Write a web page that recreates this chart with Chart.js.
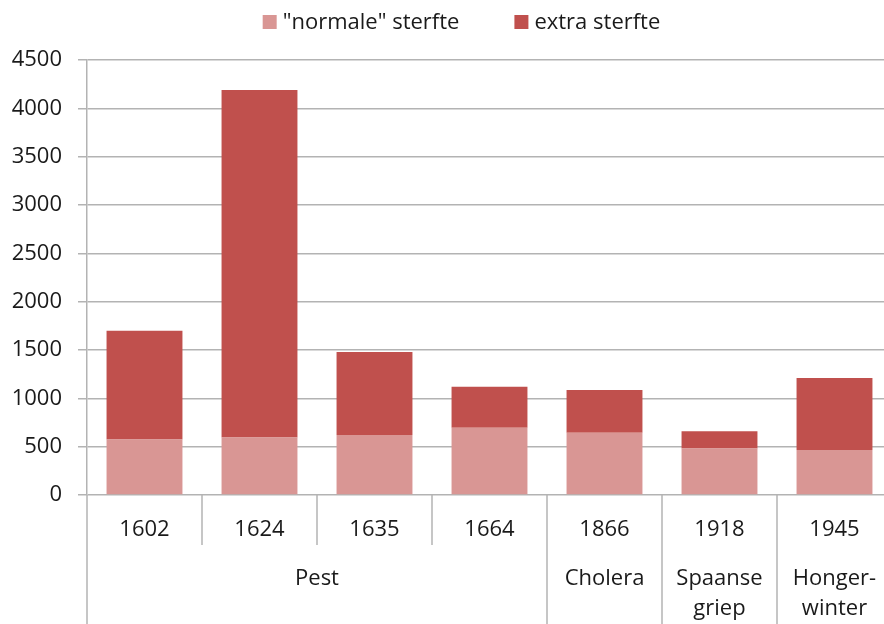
<!DOCTYPE html>
<html><head><meta charset="utf-8">
<script src="https://cdn.jsdelivr.net/npm/chart.js@4"></script>
<style>html,body{margin:0;padding:0;overflow:hidden;background:#fff;width:884px;height:624px}</style>
</head><body>
<canvas id="c" width="894" height="624"></canvas>
<script>
const categories = ['1602', '1624', '1635', '1664', '1866', '1918', '1945'];
const normalDeaths = [575, 595, 620, 695, 645, 480, 465];
const extraDeaths = [1125, 3595, 860, 425, 440, 180, 745];
const seriesNames = ['"normale" sterfte', 'extra sterfte'];
const seriesColors = ['#d99694', '#c0504d'];
const groupLabels = [['Pest'], ['Cholera'], ['Spaanse', 'griep'], ['Honger-', 'winter']];
const groupFirst = [0, 4, 5, 6];
const groupLast = [3, 4, 5, 6];
const yMin = 0, yMax = 4500, yStep = 500;

const FONT = '"Open Sans", "Noto Sans", sans-serif';
const TEXT = '#1a1a1a';
const LINE = '#b3b3b3';

const extrasPlugin = {
  id: 'extras',
  afterDraw(chart) {
    const ctx = chart.ctx;
    const xs = chart.scales.x;
    const area = chart.chartArea;
    const H = chart.height;
    const step = xs.getPixelForValue(1) - xs.getPixelForValue(0);
    const edge = (k) => xs.getPixelForValue(k) - step / 2; // left edge of category k
    ctx.save();
    ctx.strokeStyle = LINE;
    ctx.lineWidth = 1.5;
    ctx.beginPath();
    ctx.moveTo(area.left, area.bottom);
    ctx.lineTo(area.left, H);
    ctx.stroke();
    for (let k = 1; k <= categories.length; k++) {
      const isGroup = groupFirst.includes(k) || k === categories.length;
      const x = edge(k);
      ctx.beginPath();
      ctx.moveTo(x, area.bottom);
      ctx.lineTo(x, isGroup ? H : area.bottom + 50);
      ctx.stroke();
    }
    ctx.fillStyle = TEXT;
    ctx.font = '22px ' + FONT;
    ctx.textAlign = 'center';
    ctx.textBaseline = 'middle';
    groupLabels.forEach((lines, g) => {
      const cx = (edge(groupFirst[g]) + edge(groupLast[g] + 1)) / 2;
      lines.forEach((t, j) => ctx.fillText(t, cx, area.bottom + 84 + j * 30));
    });
    const box = 14, gapBox = 6, gapItem = 55;
    const widths = seriesNames.map(s => ctx.measureText(s).width);
    const total = widths.reduce((a, w) => a + box + gapBox + w, 0) + gapItem * (seriesNames.length - 1);
    let x = 461.5 - total / 2;
    const cy = 22;
    ctx.textAlign = 'left';
    seriesNames.forEach((s, i) => {
      ctx.fillStyle = seriesColors[i];
      ctx.fillRect(x, cy - box / 2, box, box);
      x += box + gapBox;
      ctx.fillStyle = TEXT;
      ctx.fillText(s, x, cy + 1);
      x += widths[i] + gapItem;
    });
    ctx.restore();
  }
};

new Chart(document.getElementById('c'), {
  type: 'bar',
  data: {
    labels: categories,
    datasets: [
      { label: seriesNames[0], data: normalDeaths, backgroundColor: seriesColors[0], borderWidth: 0 },
      { label: seriesNames[1], data: extraDeaths, backgroundColor: seriesColors[1], borderWidth: 0 }
    ]
  },
  options: {
    responsive: false,
    animation: false,
    layout: { padding: { top: 60, left: 0, right: 2, bottom: 0 } },
    datasets: { bar: { categoryPercentage: 1, barPercentage: 0.66 } },
    plugins: { legend: { display: false }, tooltip: { enabled: false } },
    scales: {
      x: {
        stacked: true,
        grid: { display: false, drawTicks: false },
        border: { display: false },
        ticks: { padding: 22, color: TEXT, font: { family: FONT, size: 22 } },
        afterFit(s) { s.height = 129; }
      },
      y: {
        stacked: true,
        min: yMin, max: yMax,
        ticks: { stepSize: yStep, padding: 16, color: TEXT, font: { family: FONT, size: 22 },
                 callback: (v) => String(v) },
        grid: { color: LINE, lineWidth: 1.5, tickLength: 9 },
        border: { display: true, color: LINE, width: 1.5 },
        afterFit(s) { s.width = 87; }
      }
    }
  },
  plugins: [extrasPlugin]
});
</script>
</body></html>
